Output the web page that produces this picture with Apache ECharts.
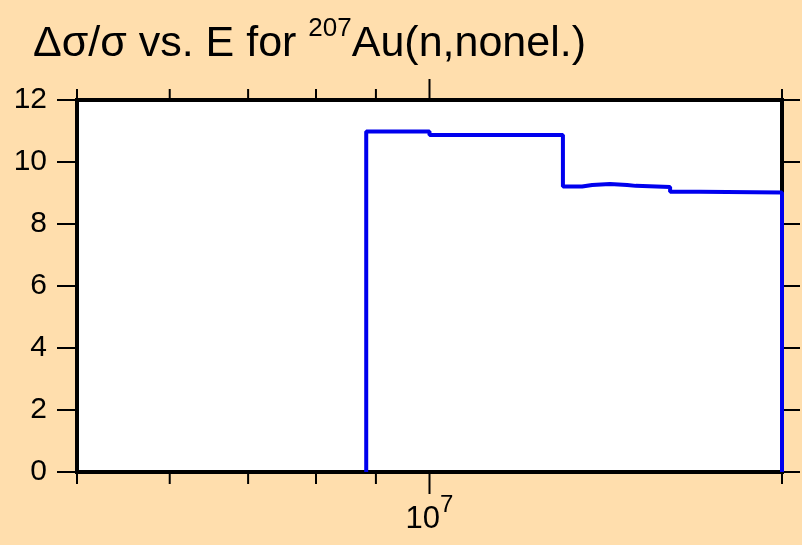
<!DOCTYPE html>
<html>
<head>
<meta charset="utf-8">
<script src="https://cdn.jsdelivr.net/npm/echarts@6/dist/echarts.min.js"></script>
<style>
html,body{margin:0;padding:0;background:#ffdead;}
#c{width:802px;height:545px;}
</style>
</head>
<body>
<div id="c"></div>
<script>
// Bin edges (energy, eV) and relative uncertainty values (%) per bin
var binEdges = [8.83e6, 1.0e7, 1.30e7, 1.35e7, 1.377e7, 1.426e7, 1.475e7, 1.50e7, 1.605e7, 1.70e7, 2.0e7];
var binValues = [10.98, 10.87, 9.21, 9.26, 9.29, 9.26, 9.23, 9.19, 9.04, 9.02];
var xMinorTicks = [5e6, 6e6, 7e6, 8e6, 9e6, 2e7];
var xMajorTicks = [1e7];
var yTicks = [0, 2, 4, 6, 8, 10, 12];

var FONT = "'Liberation Sans', Arial, sans-serif";

// step outline built from bins
var pts = [[binEdges[0], 0]];
for (var i = 0; i < binValues.length; i++) {
  pts.push([binEdges[i], binValues[i]]);
  pts.push([binEdges[i + 1], binValues[i]]);
}
pts.push([binEdges[binEdges.length - 1], 0]);

var tickData = xMinorTicks.map(function (v) { return [v, 0]; })
  .concat(xMajorTicks.map(function (v) { return [v, 1]; }));

var chart = echarts.init(document.getElementById('c'), null, {renderer: 'canvas'});
chart.setOption({
  animation: false,
  backgroundColor: '#ffdead',
  title: {
    left: 28, top: 11,
    text: '{t|Δσ/σ vs. E for }{s|207}{t|Au(n,nonel.)}',
    textStyle: {
      fontWeight: 'normal',
      rich: {
        t: {fontFamily: FONT, fontSize: 43, fontWeight: 'normal', color: '#000', lineHeight: 50, verticalAlign: 'bottom'},
        s: {fontFamily: FONT, fontSize: 26, fontWeight: 'normal', color: '#000', lineHeight: 20, verticalAlign: 'top'}
      }
    }
  },
  grid: {
    left: 77, right: 20, top: 100, bottom: 73,
    show: true, backgroundColor: '#ffffff', borderColor: '#000', borderWidth: 4
  },
  xAxis: {
    type: 'log', logBase: 10, min: 5e6, max: 2e7,
    axisLine: {show: false},
    axisTick: {show: false},
    splitLine: {show: false},
    axisLabel: {
      margin: 21,
      formatter: function (v) {
        return Math.abs(Math.log10(v) - 7) < 1e-6 ? '{a|10}{b|7}' : '';
      },
      rich: {
        a: {fontFamily: FONT, fontSize: 31, color: '#000', lineHeight: 42, verticalAlign: 'bottom'},
        b: {fontFamily: FONT, fontSize: 24, color: '#000', lineHeight: 18, verticalAlign: 'top'}
      }
    }
  },
  yAxis: [{
    type: 'value', min: 0, max: 12, interval: 2,
    axisLine: {show: false},
    axisTick: {show: true, inside: false, length: 20, lineStyle: {color: '#000', width: 2}},
    splitLine: {show: false},
    axisLabel: {margin: 30, fontFamily: FONT, fontSize: 30, color: '#000'}
  }, {
    type: 'value', min: 0, max: 12, interval: 2, position: 'right',
    axisLine: {show: false},
    axisTick: {show: true, inside: false, length: 18, lineStyle: {color: '#000', width: 2}},
    splitLine: {show: false},
    axisLabel: {show: false}
  }],
  series: [{
    type: 'line',
    data: pts,
    symbol: 'none',
    lineStyle: {color: '#0000ee', width: 4},
    z: 3
  }, {
    type: 'custom',
    clip: false,
    silent: true,
    data: tickData,
    renderItem: function (params, api) {
      var v = api.value(0);
      var major = api.value(1) === 1;
      var bottom = api.coord([v, 0]);
      var top = api.coord([v, 12]);
      var lenB = major ? 22 : 12;
      var lenT = major ? 21 : 11;
      var style = {stroke: '#000', lineWidth: 2};
      return {
        type: 'group',
        children: [
          {type: 'line', shape: {x1: bottom[0], y1: bottom[1], x2: bottom[0], y2: bottom[1] + lenB}, style: style},
          {type: 'line', shape: {x1: top[0], y1: top[1], x2: top[0], y2: top[1] - lenT}, style: style}
        ]
      };
    },
    z: 4
  }]
});
</script>
</body>
</html>
